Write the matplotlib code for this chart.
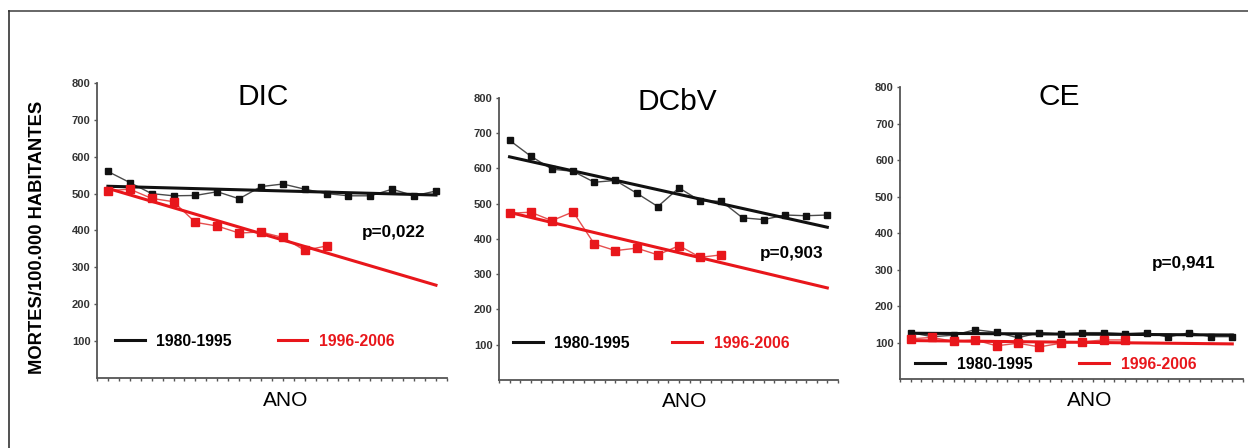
import numpy as np
import matplotlib
matplotlib.use("Agg")
import matplotlib.pyplot as plt
from matplotlib.lines import Line2D

plt.rcParams['font.family'] = ['Liberation Sans', 'DejaVu Sans']

# Year index inside each period
years_8095 = np.arange(16)
years_9606 = np.arange(11)

# Mortality per 100.000 inhabitants
dic_8095 = [560, 530, 500, 494, 495, 505, 486, 519, 526, 512, 500, 494, 494, 512, 494, 507]
dic_9606 = [508, 512, 487, 478, 422, 412, 393, 396, 381, 346, 358]
dcbv_8095 = [680, 635, 598, 592, 561, 566, 530, 492, 545, 508, 507, 460, 455, 468, 466, 468]
dcbv_9606 = [473, 476, 452, 477, 386, 367, 374, 355, 381, 348, 355]
ce_8095 = [127, 116, 120, 135, 128, 113, 127, 123, 127, 127, 124, 127, 115, 127, 116, 116]
ce_9606 = [110, 114, 103, 107, 91, 98, 88, 98, 102, 107, 107]

titles = ["DIC", "DCbV", "CE"]
p_values = ["p=0,022", "p=0,903", "p=0,941"]
labels = ["1980-1995", "1996-2006"]
y_ticks = [100, 200, 300, 400, 500, 600, 700, 800]

BLACK = "#111111"
RED = "#e8161b"


def draw_panel(ax, old, new, title, p_text, layout):
    """Draws one panel: both series, their linear trends, legend and texts."""
    # Thin data lines with square markers
    ax.plot(years_8095, old, "-", color="#4a4a4a", lw=1, zorder=2)
    ax.plot(years_9606, new, "-", color="#e55050", lw=1, zorder=2)

    # Least squares trends drawn over the whole 1980-1995 span
    fit_old = np.polyfit(years_8095, old, 1)
    fit_new = np.polyfit(years_9606, new, 1)
    h_old, = ax.plot(years_8095, np.polyval(fit_old, years_8095), color=BLACK, lw=2.2, zorder=3)
    h_new, = ax.plot(years_8095, np.polyval(fit_new, years_8095), color=RED, lw=2.2, zorder=3)

    ax.plot(years_8095, old, "s", color=BLACK, ms=4.2, zorder=4)
    ax.plot(years_9606, new, "s", color=RED, ms=5.2, zorder=4)

    ax.set_xlim(-0.5, 15.5)
    ax.set_ylim(0, 800)
    ax.set_xticks(np.arange(-0.5, 15.6, 0.5))
    ax.set_xticklabels([])
    ax.set_yticks(y_ticks)
    ax.tick_params(axis="y", labelsize=8, labelcolor="#333333", length=2.5,
                   width=1, color="#555555", pad=2)
    for lbl in ax.get_yticklabels():
        lbl.set_fontweight("bold")
    ax.tick_params(axis="x", length=2.5, width=1, color="#555555")

    for side in ["top", "right"]:
        ax.spines[side].set_visible(False)
    for side in ["left", "bottom"]:
        ax.spines[side].set_color("#555555")
        ax.spines[side].set_linewidth(1.3)

    # Title, p value and axis name
    ax.text(layout["title"][0], layout["title"][1], title, transform=ax.transAxes,
            ha="center", va="center", fontsize=21.5)
    ax.text(layout["p"][0], layout["p"][1], p_text, transform=ax.transAxes,
            ha="left", va="center", fontsize=12.3, fontweight="bold")
    ax.text(layout["ano"], -0.075, "ANO", transform=ax.transAxes,
            ha="center", va="center", fontsize=15)

    leg = ax.legend([h_old, h_new], labels, ncol=2, frameon=False,
                    loc="center left", bbox_to_anchor=layout["legend"],
                    borderpad=0, borderaxespad=0, handlelength=1.9,
                    handletextpad=0.75, columnspacing=layout["colsp"],
                    prop={"weight": "bold", "size": 11.3})
    leg.get_texts()[1].set_color(RED)


fig = plt.figure(figsize=(12.48, 4.48), dpi=100)

positions = [[0.0777, 0.1563, 0.2804, 0.6585],
             [0.3998, 0.1518, 0.2716, 0.6295],
             [0.7212, 0.1540, 0.2748, 0.6518]]
layouts = [
    {"title": (0.474, 0.953), "p": (0.757, 0.492), "ano": 0.54, "legend": (0.051, 0.125), "colsp": 2.9},
    {"title": (0.525, 0.986), "p": (0.770, 0.450), "ano": 0.549, "legend": (0.041, 0.131), "colsp": 2.7},
    {"title": (0.464, 0.966), "p": (0.735, 0.397), "ano": 0.554, "legend": (0.044, 0.051), "colsp": 3.0},
]
series = [(dic_8095, dic_9606), (dcbv_8095, dcbv_9606), (ce_8095, ce_9606)]

for i in range(3):
    ax = fig.add_axes(positions[i])
    draw_panel(ax, series[i][0], series[i][1], titles[i], p_values[i], layouts[i])

fig.text(38 / 1248, 1 - 237 / 448, "MORTES/100.000 HABITANTES", rotation=90,
         ha="center", va="center", fontsize=13.2, fontweight="bold")

# Frame around the figure (top and left edges are visible)
fig.add_artist(Line2D([0.0072, 1.0], [0.9754, 0.9754], color="#666666", lw=1.4))
fig.add_artist(Line2D([0.0072, 0.0072], [0.0, 0.9754], color="#333333", lw=1.2))

fig.savefig("out.png", dpi=100)
